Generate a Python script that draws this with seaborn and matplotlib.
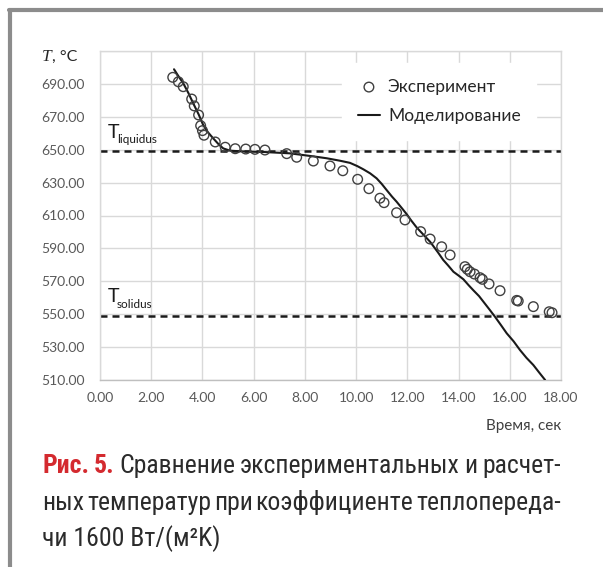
import numpy as np
import pandas as pd
import matplotlib
matplotlib.use("Agg")
import matplotlib.pyplot as plt
import seaborn as sns
from matplotlib import font_manager as fm
from matplotlib.lines import Line2D

# experiment points (time, sec / temperature, C)
exp_t = [2.84, 3.06, 3.25, 3.58, 3.68, 3.85, 3.93, 4.00, 4.06, 4.50, 4.89, 5.28, 5.69, 6.05,
         6.44, 7.29, 7.68, 8.33, 8.98, 9.48, 10.06, 10.50, 10.93, 11.09, 11.58, 11.91, 12.52,
         12.89, 13.34, 13.67, 14.25, 14.34, 14.45, 14.62, 14.84, 14.93, 15.19, 15.62, 16.27,
         16.33, 16.92, 17.54, 17.65]
exp_T = [694.0, 691.3, 688.3, 680.8, 676.6, 671.1, 664.6, 661.6, 658.8, 654.7, 651.5, 650.6,
         650.4, 650.2, 649.8, 647.6, 645.4, 643.1, 640.1, 637.2, 632.0, 626.3, 620.5, 617.8,
         611.7, 607.3, 600.2, 595.7, 591.0, 586.0, 578.9, 577.3, 575.8, 574.4, 572.2, 571.2,
         568.4, 564.3, 558.4, 558.0, 554.6, 551.5, 550.9]

# simulation curve
mod_t = [2.89, 3.05, 3.25, 3.45, 3.64, 3.85, 4.03, 4.22, 4.42, 4.62, 4.81, 5.08, 5.50, 5.86,
         6.40, 6.90, 7.40, 7.81, 8.30, 8.85, 9.37, 9.76, 10.05, 10.28, 10.55, 10.80, 11.00,
         11.19, 11.40, 11.58, 11.80, 11.97, 12.15, 12.36, 12.60, 12.89, 13.01, 13.20, 13.40,
         13.60, 13.80, 14.00, 14.19, 14.40, 14.58, 14.80, 14.97, 15.20, 15.42, 15.65, 15.88,
         16.15, 16.40, 16.65, 16.92, 17.15, 17.38]
mod_T = [698.9, 695.0, 690.4, 684.5, 678.2, 671.5, 665.0, 660.5, 656.9, 653.5, 650.8, 649.4,
         649.0, 648.8, 648.6, 648.2, 647.8, 647.0, 646.0, 644.8, 643.3, 642.0, 640.0, 638.1,
         635.6, 632.6, 629.2, 625.5, 621.5, 618.4, 614.2, 610.9, 607.0, 602.8, 598.8, 594.0,
         591.5, 587.5, 583.0, 579.5, 575.8, 573.5, 571.2, 567.5, 564.5, 561.0, 557.6, 553.0,
         548.5, 543.5, 538.4, 533.5, 528.2, 523.5, 519.1, 514.5, 510.0]

T_liquidus = 649
T_solidus = 549

x_ticks = np.arange(0, 18.01, 2)
y_ticks = np.arange(510, 710.1, 20)

caption_1 = [("Рис.", True), ("5.", True), ("Сравнение", False), ("экспериментальных", False),
             ("и", False), ("расчет-", False)]
caption_2 = ["ных", "температур", "при", "коэффициенте", "теплопереда-"]
caption_3 = "чи 1600 Вт/(м²K)"


def pick(names):
    for n in names:
        try:
            fm.findfont(fm.FontProperties(family=n), fallback_to_default=False)
            return n
        except ValueError:
            pass
    return "DejaVu Sans"


sns.set_theme(style="white")
ui_font = pick(["Lato", "Open Sans", "DejaVu Sans"])
cap_font = pick(["Liberation Sans Narrow", "Roboto Condensed", "Roboto"])
narrow = cap_font != "Roboto"
plt.rcParams["font.family"] = [ui_font, "DejaVu Sans"]

W, H = 603, 567
fx = lambda px: px / W
fy = lambda py: 1 - py / H

fig = plt.figure(figsize=(6.03, 5.67), dpi=100)
fig.patch.set_facecolor("white")
ax = fig.add_axes([fx(100), fy(380), fx(561) - fx(100), fy(51) - fy(380)])

exp_df = pd.DataFrame({"t": exp_t, "T": exp_T})
mod_df = pd.DataFrame({"t": mod_t, "T": mod_T})

sns.lineplot(data=mod_df, x="t", y="T", sort=False, color="#1a1a1a", lw=1.5,
             ax=ax, label="Моделирование", zorder=3)
sns.scatterplot(data=exp_df, x="t", y="T", marker="o", s=48, facecolors="none",
                edgecolor="#404040", linewidth=1.0, ax=ax, label="Эксперимент", zorder=4)

for lev in (T_liquidus, T_solidus):
    ax.axhline(lev, color="#1a1a1a", lw=1.8, dashes=(2.8, 2.0), zorder=2.5)

ax.set_xlim(0, 18)
ax.set_ylim(510, 710)
ax.set_xticks(x_ticks)
ax.set_yticks(y_ticks)
ax.set_xticklabels([f"{v:.2f}" for v in x_ticks])
ax.set_yticklabels([f"{v:.2f}" if v < 700 else "" for v in y_ticks])
ax.tick_params(axis="both", length=0, labelsize=10, labelcolor="#595959")
ax.tick_params(axis="y", pad=11)
ax.tick_params(axis="x", pad=9)
ax.grid(True, color="#d9d9d9", lw=1.0)
ax.set_axisbelow(True)
for side in ("top", "right", "left"):
    ax.spines[side].set_color("#d9d9d9")
    ax.spines[side].set_linewidth(1.0)
ax.spines["bottom"].set_color("#bfbfbf")
ax.spines["bottom"].set_linewidth(1.0)
ax.set_xlabel("")
ax.set_ylabel("")

# legend: circles first, then line
handles, labels = ax.get_legend_handles_labels()
order = [labels.index("Эксперимент"), labels.index("Моделирование")]
leg = ax.legend([handles[i] for i in order], [labels[i] for i in order],
                loc="upper left", bbox_to_anchor=(fx(342), fy(63)), bbox_transform=fig.transFigure,
                borderaxespad=0, borderpad=0.9, frameon=True, fancybox=False,
                facecolor="white", edgecolor="white", framealpha=1,
                fontsize=12.5, handlelength=1.3, handletextpad=0.45, labelspacing=0.78,
                labelcolor="#262626")
leg.set_zorder(1.5)

# T liquidus / solidus labels
for lev, sub in ((T_liquidus, "liquidus"), (T_solidus, "solidus")):
    ax.annotate("T", xy=(0.3, lev), xytext=(0, 9.8), textcoords="offset points",
                fontsize=14, color="#1a1a1a", va="baseline", ha="left")
    ax.annotate(sub, xy=(0.3, lev), xytext=(6.5, 5.7), textcoords="offset points",
                fontsize=8.5, color="#1a1a1a", va="baseline", ha="left")

# axis titles
fig.text(fx(42), fy(61), "T", family="Liberation Serif", style="italic", fontsize=12.5,
         color="#262626", va="baseline", ha="left")
fig.text(fx(51.5), fy(61), ", °C", fontsize=11.5, color="#262626", va="baseline", ha="left")
fig.text(fx(561), fy(430), "Время, сек", fontsize=11, color="#404040", va="baseline", ha="right")

# grey frame of the figure card
fig.add_artist(Line2D([fx(10), fx(10)], [fy(10), 0], color="#8c8c8c", lw=3))
fig.add_artist(Line2D([fx(8.5), 1], [fy(10), fy(10)], color="#8c8c8c", lw=3))

# caption, justified lines
cap_size = 18.5 if narrow else 14.5
red = "#d42a2f"
txt = "#2b2b2b"
renderer = fig.canvas.get_renderer()


def justify(words, baseline, x0=42, x1=561):
    arts = []
    for w, bold in words:
        a = fig.text(0, fy(baseline), w, family=cap_font, fontsize=cap_size,
                     weight="bold" if bold else "normal", color=red if bold else txt,
                     va="baseline", ha="left")
        arts.append(a)
    widths = [a.get_window_extent(renderer).width for a in arts]
    gap = (x1 - x0 - sum(widths)) / (len(arts) - 1)
    x = x0
    for a, w in zip(arts, widths):
        a.set_x(fx(x))
        x += w + gap


justify(caption_1, 473)
justify([(w, False) for w in caption_2], 510)
fig.text(fx(42), fy(546), caption_3, family=cap_font, fontsize=cap_size, color=txt,
         va="baseline", ha="left")

fig.savefig("out.png", dpi=100)
